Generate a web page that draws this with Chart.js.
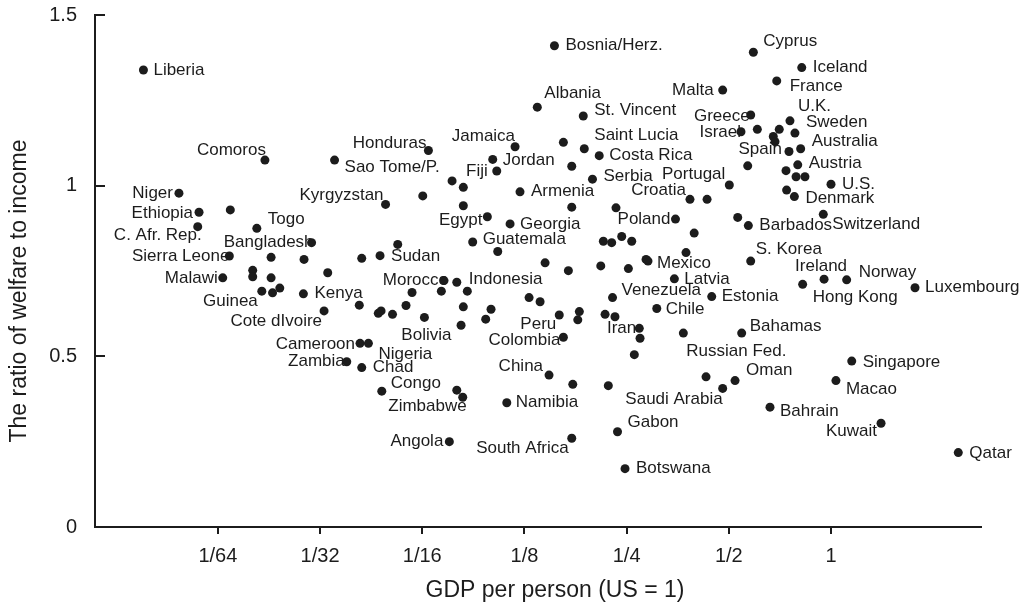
<!DOCTYPE html>
<html><head><meta charset="utf-8">
<script src="https://cdn.jsdelivr.net/npm/chart.js@4.4.1/dist/chart.umd.min.js"></script>
<style>html,body{margin:0;padding:0;background:#fff;}canvas{display:block;}</style>
</head><body>
<canvas id="chart" width="1028" height="603"></canvas>
<script>
const countries = [
'Liberia','Comoros','Niger','Ethiopia','','C. Afr. Rep.','Togo','Bangladesh','Sierra Leone','',
'','','Sudan','','Kyrgyzstan','Malawi','','','','',
'Guinea','','','Kenya','','Cote dIvoire','','','','Cameroon',
'Nigeria','Zambia','Chad','Congo','','Zimbabwe','Angola','','','Bolivia',
'','Morocco','Indonesia','','','','','','','',
'Peru','','','','','Colombia','Iran','','','Venezuela',
'Chile','China','','','Namibia','South Africa','Gabon','Botswana','','Saudi Arabia',
'Oman','Russian Fed.','Bahamas','Singapore','Macao','Bahrain','Kuwait','Qatar','Luxembourg','Norway',
'Ireland','Hong Kong','Latvia','Estonia','Mexico','','','','','',
'','Guatemala','','S. Korea','','','','','','Poland',
'','','Georgia','Egypt','','','','','Armenia','Fiji',
'Jordan','Jamaica','Honduras','Sao Tome/P.','','Saint Lucia','Costa Rica','','Serbia','Albania',
'St. Vincent','Bosnia/Herz.','Cyprus','Iceland','France','Malta','Greece','Israel','','U.K.',
'','Sweden','','','Spain','Australia','Austria','','','',
'','Portugal','U.S.','','Denmark','Croatia','','','Barbados','Switzerland'
];
const gdpPerPerson = [
0.00943,0.0215,0.0120,0.01375,0.0170,0.01363,0.02035,0.0295,0.01689,0.02242,
0.02803,0.04146,0.04694,0.05292,0.04873,0.01615,0.01979,0.01979,0.02242,0.03292,
0.02105,0.02264,0.02378,0.02791,0.04078,0.03211,0.04639,0.04727,0.05108,0.04098,
0.04338,0.03745,0.04146,0.0475,0.0790,0.08224,0.07511,0.05598,0.05832,0.06342,
0.07115,0.07244,0.0790,0.08485,0.08258,0.08133,0.09965,0.09612,0.1290,0.1390,
0.1583,0.1814,0.1795,0.2160,0.2310,0.1628,0.2724,0.2738,0.2634,0.2272,
0.3067,0.1477,0.1735,0.2208,0.1109,0.1723,0.2350,0.2473,0.4284,0.4796,
0.5216,0.3673,0.5456,1.151,1.034,0.6611,1.404,2.371,1.768,1.112,
0.954,0.825,0.3456,0.4453,0.2890,0.2852,0.2098,0.2530,0.1684,0.1438,
0.1043,0.0880,0.3740,0.5800,0.3953,0.2135,0.2259,0.2418,0.2588,0.3482,
0.2326,0.1723,0.1134,0.0972,0.08258,0.06272,0.07652,0.08258,0.1213,0.1036,
0.1008,0.1173,0.06516,0.03448,0.1628,0.1876,0.2076,0.1723,0.1983,0.1364,
0.1863,0.1532,0.5905,0.820,0.692,0.4796,0.5800,0.5430,0.6067,0.757,
0.704,0.783,0.676,0.684,0.752,0.814,0.798,0.737,0.789,0.838,
0.5684,0.5017,1.0,0.740,0.780,0.3842,0.4314,0.5311,0.5708,0.949
];
const welfareRatio = [
1.339,1.075,0.978,0.922,0.929,0.880,0.875,0.833,0.794,0.790,
0.784,0.787,0.795,0.828,0.945,0.730,0.752,0.733,0.730,0.745,
0.691,0.686,0.700,0.683,0.650,0.633,0.626,0.633,0.623,0.538,
0.538,0.484,0.467,0.398,0.401,0.380,0.250,0.649,0.687,0.614,
0.691,0.722,0.717,0.691,0.645,0.591,0.638,0.609,0.672,0.660,
0.621,0.631,0.607,0.623,0.616,0.556,0.582,0.553,0.505,0.672,
0.640,0.445,0.418,0.414,0.364,0.260,0.279,0.171,0.440,0.406,
0.429,0.568,0.568,0.486,0.429,0.351,0.304,0.218,0.701,0.724,
0.726,0.711,0.727,0.675,0.779,0.784,0.765,0.757,0.751,0.774,
0.807,0.835,0.804,0.779,0.861,0.837,0.833,0.851,0.837,0.902,
0.935,0.937,0.888,0.909,0.941,0.970,1.014,0.995,0.982,1.043,
1.077,1.114,1.103,1.075,1.127,1.108,1.088,1.057,1.019,1.230,
1.204,1.410,1.391,1.346,1.307,1.280,1.207,1.158,1.165,1.190,
1.165,1.154,1.144,1.129,1.100,1.108,1.061,1.044,1.026,1.026,
1.058,1.002,1.004,0.987,0.968,0.960,0.960,0.907,0.883,0.916
];
const xTickValues = [1/64, 1/32, 1/16, 1/8, 1/4, 1/2, 1];
const xTickLabels = ['1/64', '1/32', '1/16', '1/8', '1/4', '1/2', '1'];
const yTickValues = [0, 0.5, 1, 1.5];
const xRange = [0.00679, 2.766];
const yRange = [0, 1.5];
const xTitle = 'GDP per person (US = 1)';
const yTitle = 'The ratio of welfare to income';

// label placement relative to its dot: [textAlign, dx, dy]
const labelSpots = {
'Liberia':['left',10,0],'Comoros':['right',1,-10],'Niger':['right',-6,0],'Ethiopia':['right',-6,1],
'C. Afr. Rep.':['right',4,9],'Togo':['left',11,-9],'Bangladesh':['right',2,0],'Sierra Leone':['right',0,0],
'Sudan':['left',11,1],'Kyrgyzstan':['right',-2,-9],'Malawi':['right',-5,0],'Guinea':['right',-4,10],
'Kenya':['left',11,-1],'Cote dIvoire':['right',-2,10],'Cameroon':['right',-5,1],'Nigeria':['left',10,11],
'Zambia':['right',-2,0],'Chad':['left',11,0],'Congo':['left',9,-8],'Zimbabwe':['right',4,9],
'Angola':['right',-6,0],'Bolivia':['center',2,18],'Morocco':['right',4,0],'Indonesia':['left',12,-3],
'Peru':['right',-3,9],'Colombia':['right',-3,3],'Iran':['right',-3,0],'Venezuela':['left',9,-7],
'Chile':['left',9,1],'China':['right',-6,-9],'Namibia':['left',9,0],'South Africa':['right',-3,10],
'Gabon':['left',10,-9],'Botswana':['left',11,0],'Saudi Arabia':['right',0,11],'Oman':['left',11,-10],
'Russian Fed.':['left',3,18],'Bahamas':['left',8,-7],'Singapore':['left',11,1],'Macao':['left',10,9],
'Bahrain':['left',10,4],'Kuwait':['right',-4,8],'Qatar':['left',11,1],'Luxembourg':['left',10,0],
'Norway':['left',12,-8],'Ireland':['center',-3,-13],'Hong Kong':['left',10,13],'Latvia':['left',10,0],
'Estonia':['left',10,0],'Mexico':['left',9,2],'Guatemala':['left',10,-3],'S. Korea':['left',5,-12],
'Poland':['right',-5,0],'Georgia':['left',10,0],'Egypt':['right',-5,4],'Armenia':['left',11,0],
'Fiji':['right',-9,0],'Jordan':['left',10,1],'Jamaica':['right',0,-10],'Honduras':['right',-2,-7],
'Sao Tome/P.':['left',10,7],'Saint Lucia':['left',10,-13],'Costa Rica':['left',10,0],'Serbia':['left',11,-3],
'Albania':['left',7,-14],'St. Vincent':['left',11,-6],'Bosnia/Herz.':['left',11,0],'Cyprus':['left',10,-11],
'Iceland':['left',11,0],'France':['left',13,5],'Malta':['right',-9,0],'Greece':['right',-1,1],
'Israel':['right',0,1],'U.K.':['left',8,-15],'Sweden':['left',11,-11],'Spain':['right',-7,-2],
'Australia':['left',11,-7],'Austria':['left',11,-2],'Portugal':['right',-4,-11],'U.S.':['left',11,0],
'Denmark':['left',11,2],'Croatia':['right',-4,-9],'Barbados':['left',11,0],'Switzerland':['left',9,10]
};

const FONT = "'Liberation Sans', Arial, Helvetica, sans-serif";
const INK = '#1c1c1c';

const points = gdpPerPerson.map((g, i) => ({ x: g, y: welfareRatio[i] }));

const pointLabels = {
  id: 'pointLabels',
  beforeDatasetsDraw(chart) {
    const ctx = chart.ctx;
    const meta = chart.getDatasetMeta(0);
    ctx.save();
    ctx.font = '17px ' + FONT;
    ctx.fillStyle = INK;
    ctx.textBaseline = 'middle';
    countries.forEach((name, i) => {
      if (!name) return;
      const el = meta.data[i];
      const s = labelSpots[name] || ['left', 10, 0];
      ctx.textAlign = s[0];
      ctx.fillText(name, el.x + s[1], el.y + s[2]);
    });
    ctx.restore();
  }
};

const axisTitles = {
  id: 'axisTitles',
  afterDraw(chart) {
    const ctx = chart.ctx;
    ctx.save();
    ctx.font = '23px ' + FONT;
    ctx.fillStyle = INK;
    ctx.textAlign = 'center';
    ctx.textBaseline = 'middle';
    ctx.fillText(xTitle, 555, 591);
    ctx.translate(20, 291);
    ctx.rotate(-Math.PI / 2);
    ctx.fillText(yTitle, 0, 0);
    ctx.restore();
  }
};

new Chart(document.getElementById('chart'), {
  type: 'scatter',
  data: { datasets: [{ data: points, pointRadius: 4.5, pointHoverRadius: 4.5, backgroundColor: INK, borderWidth: 0 }] },
  options: {
    responsive: false,
    animation: false,
    devicePixelRatio: 1,
    events: [],
    layout: { padding: { left: 0, right: 47, top: 15, bottom: 0 } },
    plugins: { legend: { display: false }, tooltip: { enabled: false } },
    scales: {
      x: {
        type: 'logarithmic', position: 'bottom', min: xRange[0], max: xRange[1],
        afterBuildTicks(s) { s.ticks = xTickValues.map(v => ({ value: v })); },
        afterFit(s) { s.height = 76; s.paddingLeft = 0; s.paddingRight = 0; },
        grid: { drawOnChartArea: false, drawTicks: true, tickLength: 7, color: INK, tickColor: INK, lineWidth: 2, tickWidth: 2 },
        border: { display: true, color: INK, width: 2 },
        ticks: { autoSkip: false, maxRotation: 0, padding: 10, color: INK, font: { family: FONT, size: 20 },
          callback(v, i) { return xTickLabels[i]; } }
      },
      y: {
        type: 'linear', min: yRange[0], max: yRange[1],
        afterBuildTicks(s) { s.ticks = yTickValues.map(v => ({ value: v })); },
        afterFit(s) { s.width = 95; s.paddingTop = 0; s.paddingBottom = 0; },
        grid: { drawOnChartArea: false, drawTicks: true, tickLength: -10, color: INK, tickColor: INK, lineWidth: 2, tickWidth: 2 },
        border: { display: true, color: INK, width: 2 },
        ticks: { padding: 28, color: INK, font: { family: FONT, size: 20 }, callback(v) { return String(v); } }
      }
    }
  },
  plugins: [pointLabels, axisTitles]
});
</script>
</body></html>
